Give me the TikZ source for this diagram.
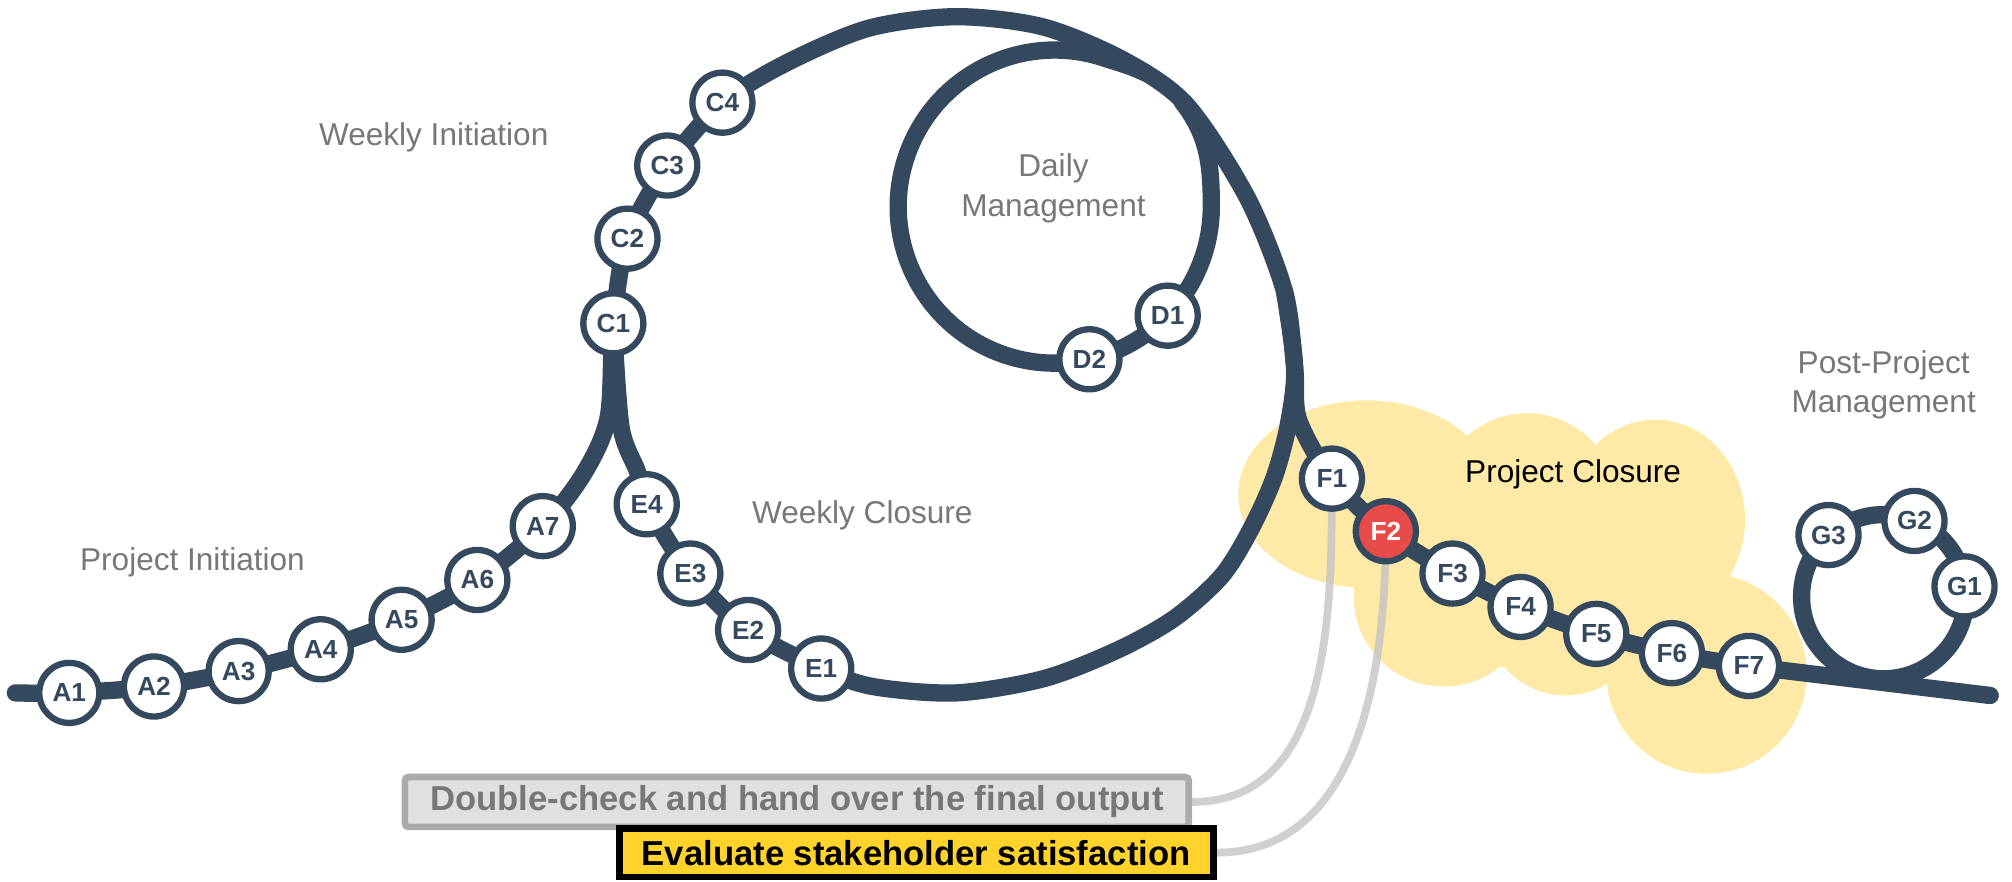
\documentclass[tikz,border=0pt]{standalone}
\usepackage{fontspec}
\setmainfont{Liberation Sans}
\definecolor{slate}{HTML}{34495E}
\definecolor{alarm}{HTML}{E84C4A}
\definecolor{sand}{HTML}{FFE9A6}
\definecolor{phasegrey}{HTML}{777777}
\definecolor{boxgrey}{HTML}{E0E0E0}
\definecolor{rimgrey}{HTML}{ABABAB}
\definecolor{gold}{HTML}{FFD32C}
\definecolor{leadgrey}{HTML}{C4C4C4}
\pgfdeclarelayer{cloud}
\pgfdeclarelayer{rails}
\pgfsetlayers{cloud,rails,main}

\tikzset{
  station/.style={circle, draw=slate, fill=white, line width=3.5pt, minimum size=1.17cm, inner sep=0pt, text=slate, font=\fontsize{14.5}{14.5}\selectfont\bfseries},
  rail/.style={draw=slate, line width=9.6pt, line cap=round, line join=round},
  phase/.style={text=phasegrey, font=\fontsize{17.5}{22}\selectfont, align=center},
  lead/.style={draw=leadgrey, line width=4.3pt, opacity=0.8},
  task/.style={line width=3.7pt, inner sep=0pt, font=\fontsize{19.2}{19.2}\selectfont\bfseries}
}

\begin{document}
\begin{tikzpicture}[x=0.025cm, y=0.025cm]
  \useasboundingbox (0,0) rectangle (1568,687);

  % stops
  \node[station] (A1) at (54,147) {A1};
  \node[station] (A2) at (120,152) {A2};
  \node[station] (A3) at (186,164) {A3};
  \node[station] (A4) at (250,181) {A4};
  \node[station] (A5) at (313,204) {A5};
  \node[station] (A6) at (372,235) {A6};
  \node[station] (A7) at (423,277) {A7};

  \node[station] (C1) at (478,435) {C1};
  \node[station] (C2) at (489,501) {C2};
  \node[station] (C3) at (520,558) {C3};
  \node[station] (C4) at (563,607) {C4};

  \node[station] (D1) at (910,441) {D1};
  \node[station] (D2) at (849,407) {D2};

  \node[station] (E1) at (640,166) {E1};
  \node[station] (E2) at (583,196) {E2};
  \node[station] (E3) at (538,240) {E3};
  \node[station] (E4) at (504,294) {E4};

  \node[station] (F1) at (1038,314) {F1};
  \node[station, fill=alarm, text=white] (F2) at (1080,273) {F2};
  \node[station] (F3) at (1132,240) {F3};
  \node[station] (F4) at (1185,214) {F4};
  \node[station] (F5) at (1244,193) {F5};
  \node[station] (F6) at (1303,178) {F6};
  \node[station] (F7) at (1363,168) {F7};

  \node[station] (G1) at (1531,230) {G1};
  \node[station] (G2) at (1492,281) {G2};
  \node[station] (G3) at (1425,270) {G3};

  % phase names
  \node[phase] (pinit) at (150,249) {Project Initiation};
  \node[phase] (winit) at (338,580) {Weekly Initiation};
  \node[phase] (wclose) at (672,285) {Weekly Closure};
  \node[phase] (daily) at (821,540) {Daily\\Management};
  \node[phase, text=black] (pclose) at (1226,317) {Project Closure};
  \node[phase] (post) at (1468,387) {Post-Project\\Management};

  % tasks
  \node[task, draw=rimgrey, fill=boxgrey, text=phasegrey, rounded corners=2pt, minimum width=15.27cm, minimum height=0.97cm] (check) at (621,62) {Double-check and hand over the final output};
  \node[task, draw=black, fill=gold, minimum width=11.57cm, minimum height=0.945cm] (survey) at (714,22.5) {Evaluate stakeholder satisfaction};

  \begin{pgfonlayer}{rails}
    \draw[rail] plot[smooth, tension=0.5] coordinates {(12,147) (A1.center) (A2.center) (A3.center) (A4.center) (A5.center) (A6.center) (A7.center) (455,318) (474,362) (C1.center) (C2.center) (C3.center) (C4.center) (613,638) (677,665) (745,674) (813,666) (876,640) (925,605) (972,533) (1001,460) (1009,400) (1012,360) (F1.center) (F2.center) (F3.center) (F4.center) (F5.center) (F6.center) (F7.center) (1460,156) (1551,145)};
    \draw[rail] plot[smooth, tension=0.5] coordinates {(1001,460) (1009,400) (1004,356) (993,315) (975,275) (952,238) (915,205) (870,180) (813,158) (745,147) (680,152) (E1.center) (E2.center) (E3.center) (E4.center) (497,319) (484,354) (C1.center)};
    \draw[rail] (893,630) to[out=155, in=-18] (859.7,642) arc[start angle=72, end angle=360, radius=122] to[out=90, in=-52] (921,608);
    \draw[rail] (1468,222) circle[radius=64];
  \end{pgfonlayer}

  \begin{pgfonlayer}{cloud}
    \fill[sand] (1065,302) ellipse[x radius=100, y radius=73];
    \fill[sand] (1190,295) circle[radius=70];
    \fill[sand] (1290,282) ellipse[x radius=70, y radius=78];
    \fill[sand] (1330,162) circle[radius=78];
    \fill[sand] (1220,207) circle[radius=62];
    \fill[sand] (1125,222) circle[radius=70];
    \fill[sand] (1180,257) ellipse[x radius=130, y radius=90];
    \draw[lead] (F1.center) to[out=-90, in=0] (check.east);
    \draw[lead] (F2.center) to[out=-90, in=0] (survey.east);
  \end{pgfonlayer}
\end{tikzpicture}
\end{document}
